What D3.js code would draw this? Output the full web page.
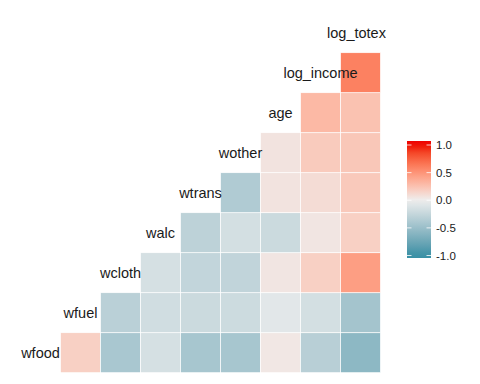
<!DOCTYPE html>
<html>
<head>
<meta charset="utf-8">
<script src="https://cdn.jsdelivr.net/npm/d3@7"></script>
<style>
  body { margin: 0; background: #fff; }
  text { font-family: "Liberation Sans", Arial, sans-serif; }
</style>
</head>
<body>
<svg width="480" height="384"></svg>
<script>
// variables, in diagonal order
var vars = ["wfood", "wfuel", "wcloth", "walc", "wtrans", "wother", "age", "log_income", "log_totexp"];

// correlations of each variable with the ones after it
var corrs = [
  [0.17, -0.41, -0.15, -0.42, -0.42, 0.04, -0.32, -0.57], // wfood
  [-0.31, -0.18, -0.21, -0.20, -0.07, -0.16, -0.44],      // wfuel
  [-0.15, -0.26, -0.27, 0.05, 0.17, 0.45],                // wcloth
  [-0.29, -0.16, -0.21, 0.05, 0.17],                      // walc
  [-0.37, 0.06, 0.10, 0.21],                              // wtrans
  [0.06, 0.20, 0.22],                                     // wother
  [0.30, 0.25],                                           // age
  [0.60]                                                  // log_income
];

var legendTicks = [1.0, 0.5, 0.0, -0.5, -1.0];

var svg = d3.select("svg");

// grid scales (positions 0..8 on each axis)
var x = d3.scaleBand().domain(d3.range(vars.length)).range([20.5, 380.5]).padding(0);
var y = d3.scaleBand().domain(d3.range(vars.length)).range([372.7, 12.7]).padding(0);

var color = d3.scaleLinear()
    .domain([-1, 0, 1])
    .range(["#3890A5", "#EEEEEE", "#EE0000"])
    .interpolate(d3.interpolateLab);

// flatten to cells
var cells = [];
corrs.forEach(function(row, i) {
  row.forEach(function(v, k) {
    cells.push({i: i, j: i + k + 1, value: v});
  });
});

svg.append("clipPath").attr("id", "panel")
  .append("rect").attr("x", 0).attr("y", 0).attr("width", 386).attr("height", 384);

var g = svg.append("g").attr("clip-path", "url(#panel)");

g.selectAll("rect.cell")
    .data(cells)
  .enter().append("rect")
    .attr("class", "cell")
    .attr("x", d => x(d.j))
    .attr("y", d => y(d.i))
    .attr("width", x.bandwidth())
    .attr("height", y.bandwidth())
    .style("fill", d => color(d.value))
    .style("stroke", "#fff")
    .style("stroke-width", 0.7);

// labels on the diagonal
g.selectAll("text.lab")
    .data(vars)
  .enter().append("text")
    .attr("class", "lab")
    .attr("x", (d, i) => x(i) + x.bandwidth() / 2)
    .attr("y", (d, i) => y(i) + y.bandwidth() / 2)
    .attr("dy", "0.36em")
    .attr("text-anchor", "middle")
    .style("font-size", "14.5px")
    .style("fill", "#1a1a1a")
    .text(d => d);

// colour bar legend
var ly = d3.scaleLinear().domain([-1, 1]).range([255.5, 145]);
var barX = 407, barW = 24, barTop = 141, barBot = 258;

var grad = svg.append("defs").append("linearGradient")
    .attr("id", "grad")
    .attr("x1", 0).attr("y1", 1).attr("x2", 0).attr("y2", 0);
d3.range(0, 1.0001, 0.05).forEach(function(t) {
  var v = ly.invert(barBot - t * (barBot - barTop));
  grad.append("stop")
      .attr("offset", t)
      .attr("stop-color", color(Math.max(-1, Math.min(1, v))));
});

var leg = svg.append("g");
leg.append("rect")
    .attr("x", barX).attr("y", barTop)
    .attr("width", barW).attr("height", barBot - barTop)
    .style("fill", "url(#grad)");

leg.selectAll("line.tl")
    .data(legendTicks)
  .enter().append("line")
    .attr("x1", barX).attr("x2", barX + 4.5)
    .attr("y1", d => ly(d)).attr("y2", d => ly(d))
    .style("stroke", "#fff").style("stroke-width", 0.8);
leg.selectAll("line.tr")
    .data(legendTicks)
  .enter().append("line")
    .attr("x1", barX + barW - 4.5).attr("x2", barX + barW)
    .attr("y1", d => ly(d)).attr("y2", d => ly(d))
    .style("stroke", "#fff").style("stroke-width", 0.8);

leg.selectAll("text")
    .data(legendTicks)
  .enter().append("text")
    .attr("x", barX + barW + 5)
    .attr("y", d => ly(d))
    .attr("dy", "0.36em")
    .style("font-size", "11.5px")
    .style("fill", "#1a1a1a")
    .text(d => d3.format(".1f")(d).replace("\u2212", "-"));
</script>
</body>
</html>
